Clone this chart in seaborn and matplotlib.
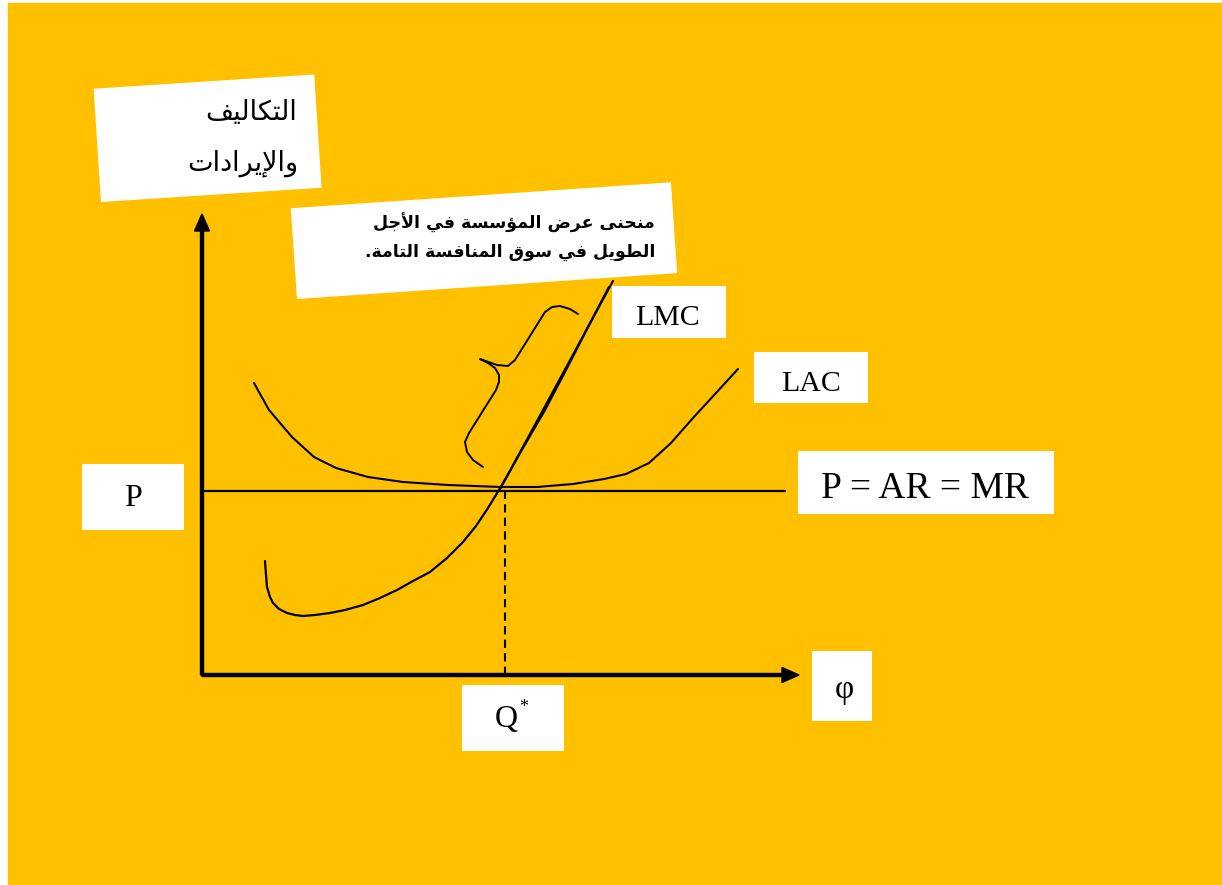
import matplotlib
matplotlib.use("Agg")
import matplotlib.pyplot as plt
from matplotlib.patches import Rectangle
import numpy as np
import seaborn as sns

# quantity on x, cost / revenue on y (origin = where the two axes meet)
price_level = 184
q_star = 303

lac_q = [52, 67, 90, 112, 134, 166, 201, 246, 299, 335, 371, 402, 424, 447, 469, 491, 514, 536]
lac_c = [292, 265, 238, 218, 207, 198, 193, 190, 188, 188, 191, 196, 201, 212, 232, 257, 282, 306]

lmc_q = [63, 64, 65, 68, 71, 77, 85, 93, 101, 113, 128, 143, 161, 178, 195, 211, 228, 245,
         261, 274, 286, 297, 308, 318, 343, 365, 386, 407]
lmc_c = [114, 100, 88, 78, 72, 66, 62, 60, 59, 60, 62, 65, 70, 77, 85, 94, 103, 117,
         133, 149, 167, 185, 204, 222, 265, 307, 348, 388]

# long-run supply: the LMC above the LAC minimum
supply_q = [297, 411]
supply_c = [184, 394]

brace_q = [281, 271, 265, 263, 267, 294, 297, 297, 293, 286, 278, 295, 306, 313, 343, 350, 358, 368, 376]
brace_c = [208, 215, 223, 233, 242, 285, 293, 300, 307, 312, 316, 310, 309, 315, 363, 368, 369, 366, 361]

y_title = ["التكاليف", "والإيرادات"]
supply_note = ["منحنى عرض المؤسسة في الأجل", "الطويل في سوق المنافسة التامة."]

# arabic letters -> (isolated, final, initial, medial) presentation forms
FORMS = {
    'ا': (0xFE8D, 0xFE8E), 'أ': (0xFE83, 0xFE84), 'إ': (0xFE87, 0xFE88),
    'ؤ': (0xFE85, 0xFE86), 'ة': (0xFE93, 0xFE94), 'د': (0xFEA9, 0xFEAA),
    'ر': (0xFEAD, 0xFEAE), 'و': (0xFEED, 0xFEEE), 'ى': (0xFEEF, 0xFEF0),
    'ت': (0xFE95, 0xFE96, 0xFE97, 0xFE98), 'ج': (0xFE9D, 0xFE9E, 0xFE9F, 0xFEA0),
    'ح': (0xFEA1, 0xFEA2, 0xFEA3, 0xFEA4), 'س': (0xFEB1, 0xFEB2, 0xFEB3, 0xFEB4),
    'ض': (0xFEBD, 0xFEBE, 0xFEBF, 0xFEC0), 'ط': (0xFEC1, 0xFEC2, 0xFEC3, 0xFEC4),
    'ع': (0xFEC9, 0xFECA, 0xFECB, 0xFECC), 'ف': (0xFED1, 0xFED2, 0xFED3, 0xFED4),
    'ق': (0xFED5, 0xFED6, 0xFED7, 0xFED8), 'ك': (0xFED9, 0xFEDA, 0xFEDB, 0xFEDC),
    'ل': (0xFEDD, 0xFEDE, 0xFEDF, 0xFEE0), 'م': (0xFEE1, 0xFEE2, 0xFEE3, 0xFEE4),
    'ن': (0xFEE5, 0xFEE6, 0xFEE7, 0xFEE8), 'ي': (0xFEF1, 0xFEF2, 0xFEF3, 0xFEF4),
}
LAM_ALEF = {'ا': (0xFEFB, 0xFEFC), 'أ': (0xFEF7, 0xFEF8), 'إ': (0xFEF9, 0xFEFA)}


def shape(text):
    # matplotlib has no arabic shaping, so join the letters by hand and flip to visual order
    toks = []
    i = 0
    while i < len(text):
        c = text[i]
        if c == 'ل' and i + 1 < len(text) and text[i + 1] in LAM_ALEF:
            toks.append(LAM_ALEF[text[i + 1]])
            i += 2
        else:
            toks.append(FORMS.get(c, c))
            i += 1
    out = []
    for k, t in enumerate(toks):
        if isinstance(t, str):
            out.append(t)
            continue
        prev = toks[k - 1] if k > 0 else None
        nxt = toks[k + 1] if k + 1 < len(toks) else None
        jp = isinstance(prev, tuple) and len(prev) == 4
        jn = len(t) == 4 and isinstance(nxt, tuple)
        idx = 3 if (jp and jn) else 1 if jp else 2 if jn else 0
        out.append(chr(t[idx]))
    return ''.join(out[::-1])


sns.set_style("white")
plt.rcParams['font.family'] = ['DejaVu Sans']
plt.rcParams['text.color'] = 'black'

fig = plt.figure(figsize=(12.22, 8.85), dpi=100)
ax = fig.add_axes([0, 0, 1, 1])
ax.set_xlim(-202, 1020)
ax.set_ylim(-210, 675)
ax.axis('off')

gold = '#FFC000'
ax.add_patch(Rectangle((-194, -210), 1214, 882, color=gold, zorder=0))


def box(x, y, w, h, angle=0):
    ax.add_patch(Rectangle((x, y), w, h, angle=angle, facecolor='white', edgecolor='none', zorder=2))


# axes with arrows
ax.arrow(0, 0, 0, 461, width=3, head_width=15, head_length=17, length_includes_head=True,
         color='black', zorder=3)
ax.arrow(0, 0, 597, 0, width=3, head_width=15, head_length=17, length_includes_head=True,
         color='black', zorder=3)

ax.plot([0, 583], [price_level, price_level], color='black', lw=1.6, zorder=3)
ax.plot([q_star, q_star], [0, price_level], color='black', lw=1.5, dashes=(4, 2.5), zorder=3)

sns.lineplot(x=lac_q, y=lac_c, sort=False, estimator=None, color='black', lw=1.5, ax=ax, zorder=3)
sns.lineplot(x=lmc_q, y=lmc_c, sort=False, estimator=None, color='black', lw=1.6, ax=ax, zorder=3)
sns.lineplot(x=supply_q, y=supply_c, sort=False, estimator=None, color='black', lw=1.5, ax=ax, zorder=3)
sns.lineplot(x=brace_q, y=brace_c, sort=False, estimator=None, color='black', lw=1.4, ax=ax, zorder=3)

# text boxes
serif = 'Liberation Serif'
box(-101, 473, 221, 113.5, angle=3.7)
ax.text(95, 555, shape(y_title[0]), ha='right', va='baseline', fontsize=19.5, zorder=4)
ax.text(96, 505, shape(y_title[1]), ha='right', va='baseline', fontsize=19.5, zorder=4)

box(95, 376, 381, 91, angle=3.9)
ax.text(453, 446, shape(supply_note[0]), ha='right', va='baseline', fontsize=12.5,
        fontweight='bold', zorder=4)
ax.text(453, 418, shape(supply_note[1]), ha='right', va='baseline', fontsize=12.5,
        fontweight='bold', zorder=4)

box(410, 337, 114, 52)
ax.text(466, 350, 'LMC', ha='center', va='baseline', fontsize=21.5, family=serif, zorder=4)
box(552, 272, 114, 51)
ax.text(609, 284, 'LAC', ha='center', va='baseline', fontsize=21.5, family=serif, zorder=4)
box(596, 161, 256, 63)
ax.text(723, 177, 'P = AR = MR', ha='center', va='baseline', fontsize=27, family=serif, zorder=4)
box(-120, 145, 102, 66)
ax.text(-69, 169, 'P', ha='center', va='baseline', fontsize=23, family=serif, zorder=4)
box(260, -76, 102, 66)
ax.text(304, -52, 'Q', ha='center', va='baseline', fontsize=23, family=serif, zorder=4)
ax.text(322, -37, '*', ha='center', va='baseline', fontsize=13, family=serif, zorder=4)
box(610, -46, 60, 70)
ax.text(642, -23, 'φ', ha='center', va='baseline', fontsize=24, family=serif, zorder=4)

fig.savefig('out.png', dpi=100, facecolor='white')
